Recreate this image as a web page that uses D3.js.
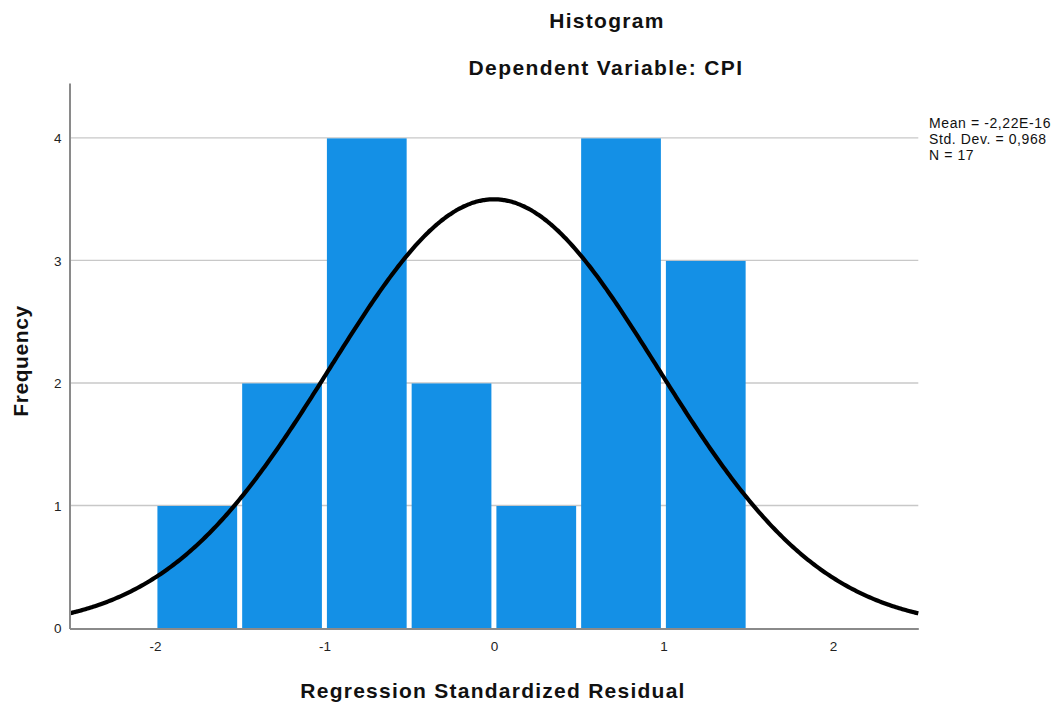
<!DOCTYPE html>
<html>
<head>
<meta charset="utf-8">
<script src="https://cdn.jsdelivr.net/npm/d3@7"></script>
<style>
  html, body { margin: 0; padding: 0; background: #fff; }
  svg { display: block; font-family: "Liberation Sans", Arial, sans-serif; }
</style>
</head>
<body>
<svg id="chart" width="1056" height="707"></svg>
<script>
// Residual histogram bins (bin edges and counts)
const binStarts = [-2.0, -1.5, -1.0, -0.5, 0.0, 0.5, 1.0];
const binWidth = 0.5;
const counts = [1, 2, 4, 2, 1, 4, 3];

// Axis ticks
const xTicks = [-2, -1, 0, 1, 2];
const yTicks = [0, 1, 2, 3, 4];

// Summary statistics shown beside the plot
const statMean = -2.22e-16;
const statSD = 0.968;
const statN = 17;
const statLabels = ["Mean = -2,22E-16", "Std. Dev. = 0,968", "N = 17"];

const svg = d3.select("#chart");

const plotLeft = 69.5, plotRight = 918.3, plotTop = 83, plotBottom = 628.5;
const barGap = 2.5;

const x = d3.scaleLinear().domain([-2.504, 2.504]).range([plotLeft, plotRight]);
const y = d3.scaleLinear().domain([0, 4.452]).range([plotBottom, plotTop]);

// Plain hyphen for negative tick labels
const intFmt = d => String(Math.round(d));

// Horizontal gridlines
svg.append("g")
  .selectAll("line")
  .data(yTicks.filter(d => d > 0))
  .join("line")
  .attr("x1", plotLeft).attr("x2", plotRight)
  .attr("y1", d => y(d) - 0.5).attr("y2", d => y(d) - 0.5)
  .attr("stroke", "#c8c8c8")
  .attr("stroke-width", 1.4);

// Bars, with a narrow white gap between neighbours
svg.append("g")
  .selectAll("rect")
  .data(counts.map((c, i) => ({ x0: binStarts[i], x1: binStarts[i] + binWidth, c })))
  .join("rect")
  .attr("x", d => x(d.x0) + barGap)
  .attr("width", d => x(d.x1) - x(d.x0) - 2 * barGap)
  .attr("y", d => y(d.c))
  .attr("height", d => y(0) - y(d.c))
  .attr("fill", "#1490e6");

// Normal curve scaled to counts: N * binWidth * pdf
const curvePts = d3.range(0, 401).map(i => {
  const xv = x.domain()[0] + (x.domain()[1] - x.domain()[0]) * i / 400;
  const z = (xv - statMean) / statSD;
  const v = statN * binWidth * Math.exp(-0.5 * z * z) / (statSD * Math.sqrt(2 * Math.PI));
  return [xv, v];
});
svg.append("path")
  .datum(curvePts)
  .attr("fill", "none")
  .attr("stroke", "#000")
  .attr("stroke-width", 4.2)
  .attr("d", d3.line().x(d => x(d[0])).y(d => y(d[1])).curve(d3.curveBasis));

// Axes
const xAxis = svg.append("g")
  .attr("transform", `translate(0,${plotBottom})`)
  .call(d3.axisBottom(x).tickValues(xTicks).tickSize(0).tickPadding(13).tickFormat(intFmt));
xAxis.select(".domain").attr("stroke", "#8a8a8a").attr("stroke-width", 2);
xAxis.selectAll("text").attr("font-size", 13.5).attr("fill", "#222").attr("font-family", "Liberation Sans, Arial, sans-serif");

const yAxis = svg.append("g")
  .attr("transform", `translate(${plotLeft},0)`)
  .call(d3.axisLeft(y).tickValues(yTicks).tickSize(0).tickPadding(8).tickFormat(intFmt));
yAxis.select(".domain").attr("stroke", "#8a8a8a").attr("stroke-width", 2);
yAxis.selectAll("text").attr("font-size", 13.5).attr("fill", "#222").attr("font-family", "Liberation Sans, Arial, sans-serif");

// Titles
svg.append("text")
  .attr("x", 607).attr("y", 28)
  .attr("text-anchor", "middle")
  .attr("font-size", 21).attr("font-weight", "bold").attr("fill", "#111")
  .attr("letter-spacing", 1.3)
  .text("Histogram");
svg.append("text")
  .attr("x", 606).attr("y", 75)
  .attr("text-anchor", "middle")
  .attr("font-size", 21).attr("font-weight", "bold").attr("fill", "#111")
  .attr("letter-spacing", 1.4)
  .text("Dependent Variable: CPI");

// Axis titles
svg.append("text")
  .attr("x", 493).attr("y", 698)
  .attr("text-anchor", "middle")
  .attr("font-size", 21).attr("font-weight", "bold").attr("fill", "#111")
  .attr("letter-spacing", 1.25)
  .text("Regression Standardized Residual");
svg.append("text")
  .attr("transform", "translate(28,361) rotate(-90)")
  .attr("text-anchor", "middle")
  .attr("font-size", 21).attr("font-weight", "bold").attr("fill", "#111")
  .attr("letter-spacing", 0.6)
  .text("Frequency");

// Summary statistics
svg.append("g")
  .selectAll("text")
  .data(statLabels)
  .join("text")
  .attr("x", 929)
  .attr("y", (d, i) => 127.5 + i * 16.3)
  .attr("font-size", 14).attr("fill", "#111")
  .attr("letter-spacing", 0.6)
  .text(d => d);
</script>
</body>
</html>
